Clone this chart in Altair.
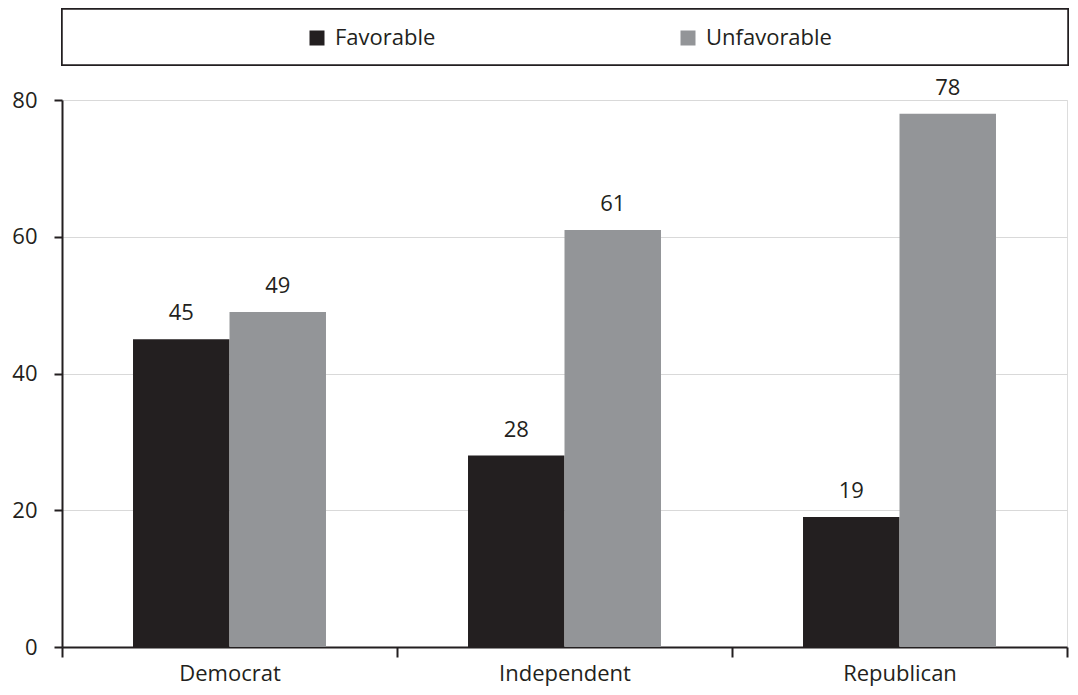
import altair as alt
import pandas as pd

categories = ["Democrat", "Independent", "Republican"]
series = ["Favorable", "Unfavorable"]
favorable = [45, 28, 19]
unfavorable = [49, 61, 78]
colors = ["#231f20", "#939598"]
y_ticks = [0, 20, 40, 60, 80]

rows = []
for c, f, u in zip(categories, favorable, unfavorable):
    rows.append({"party": c, "series": series[0], "value": f})
    rows.append({"party": c, "series": series[1], "value": u})
df = pd.DataFrame(rows)

FONT = "Open Sans"
DARK = "#231f20"
FS = 22

x_enc = alt.X(
    "party:N",
    sort=categories,
    title=None,
    scale=alt.Scale(paddingInner=0, paddingOuter=0),
    axis=alt.Axis(
        labelAngle=0, labelFontSize=FS, labelColor=DARK, labelFont=FONT,
        labelBaseline="alphabetic", labelPadding=23,
        tickSize=10, tickWidth=2, tickColor=DARK,
        domainColor=DARK, domainWidth=2, tickBand="extent", grid=False,
    ),
)
xoff_enc = alt.XOffset("series:N", sort=series, scale=alt.Scale(paddingInner=0, paddingOuter=0.736))
y_enc = alt.Y(
    "value:Q",
    title=None,
    scale=alt.Scale(domain=[0, 80], nice=False),
    axis=alt.Axis(
        values=y_ticks, labelFontSize=FS, labelColor=DARK, labelFont=FONT,
        labelPadding=17, tickSize=8, tickWidth=2, tickColor=DARK,
        domainColor=DARK, domainWidth=2, gridColor="#d9d9d9", gridWidth=1,
    ),
)

base = alt.Chart(df)

legend_box = base.mark_rect(fill="white", stroke=DARK, strokeWidth=1.5).encode(
    x=alt.value(0), x2=alt.value(1006), y=alt.value(-91), y2=alt.value(-35)
)

bars = base.mark_bar().encode(
    x=x_enc,
    xOffset=xoff_enc,
    y=y_enc,
    color=alt.Color(
        "series:N",
        sort=series,
        scale=alt.Scale(domain=series, range=colors),
        legend=alt.Legend(
            title=None, orient="none", legendX=244, legendY=-73,
            direction="horizontal", symbolType="square", symbolSize=225,
            symbolStrokeWidth=0, labelFontSize=FS, labelFont=FONT,
            labelColor=DARK, labelOffset=7, columnPadding=241, padding=0,
        ),
    ),
)

labels = base.mark_text(baseline="alphabetic", dy=-19, fontSize=FS, font=FONT, color=DARK).encode(
    x=alt.X("party:N", sort=categories),
    xOffset=alt.XOffset("series:N", sort=series),
    y=alt.Y("value:Q"),
    text=alt.Text("value:Q"),
)

chart = alt.layer(legend_box, bars, labels).properties(
    width=1005,
    height=547,
    autosize=alt.AutoSizeParams(type="none"),
    padding={"left": 54, "top": 92, "right": 3, "bottom": 39},
).configure_view(stroke="#cfcfcf", strokeWidth=1.5).configure(background="white")

chart.save("out.html", embed_options={"renderer": "svg", "actions": False})
